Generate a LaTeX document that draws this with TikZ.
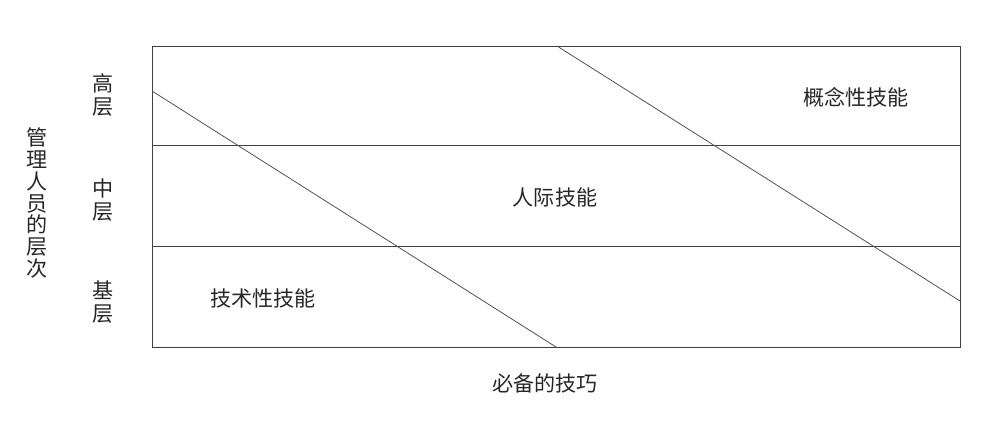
\documentclass[tikz,border=0pt]{standalone}
\usepackage{fontspec}
\setmainfont{Noto Sans CJK SC}
\usepackage{tikz}
\usetikzlibrary{positioning}

\begin{document}
\begin{tikzpicture}[x=0.3mm, y=-0.3mm,
	rahmen/.style={draw=black!75, line width=0.65pt},
	linie/.style={draw=black!70, line width=0.65pt},
	ebene/.style={font=\fontsize{18}{19.5}\selectfont, align=center, inner sep=0pt, text=black!85},
	fach/.style={font=\fontsize{18}{22}\selectfont, inner sep=0pt, text=black!85}
	]
	\useasboundingbox (0,0) rectangle (998,430);
	% Rahmen und Ebenen
	\coordinate (ol) at (152,46);
	\coordinate (or) at (960,46);
	\coordinate (ul) at (152,347);
	\coordinate (ur) at (960,347);
	\coordinate (m1l) at (152,145);
	\coordinate (m1r) at (960,145);
	\coordinate (m2l) at (152,246);
	\coordinate (m2r) at (960,246);
	\draw[rahmen] (ol) -- (or) -- (ur) -- (ul) -- cycle;
	\draw[rahmen] (m1l) -- (m1r);
	\draw[rahmen] (m2l) -- (m2r);
	% Diagonalen
	\coordinate (d1a) at (152,91);
	\coordinate (d1b) at (556,347);
	\coordinate (d2a) at (557,46);
	\coordinate (d2b) at (960,301);
	\draw[linie] (d1a) -- (d1b);
	\draw[linie] (d2a) -- (d2b);
	% Beschriftungen
	\node (hoch) [ebene] at (103,95) {高\\层};
	\node (mitte) [ebene] at (103,200) {中\\层};
	\node (basis) [ebene] at (103,302) {基\\层};
	\node (achse) [ebene, font=\fontsize{18}{18.6}\selectfont] at (37,203) {管\\理\\人\\员\\的\\层\\次};
	\node (konzept) [fach] at (856,97) {概念性技能};
	\node (sozial) [fach] at (555,197) {人际技能};
	\node (technik) [fach] at (263,298) {技术性技能};
	\node (titel) [fach] at (545,383) {必备的技巧};
\end{tikzpicture}
\end{document}
